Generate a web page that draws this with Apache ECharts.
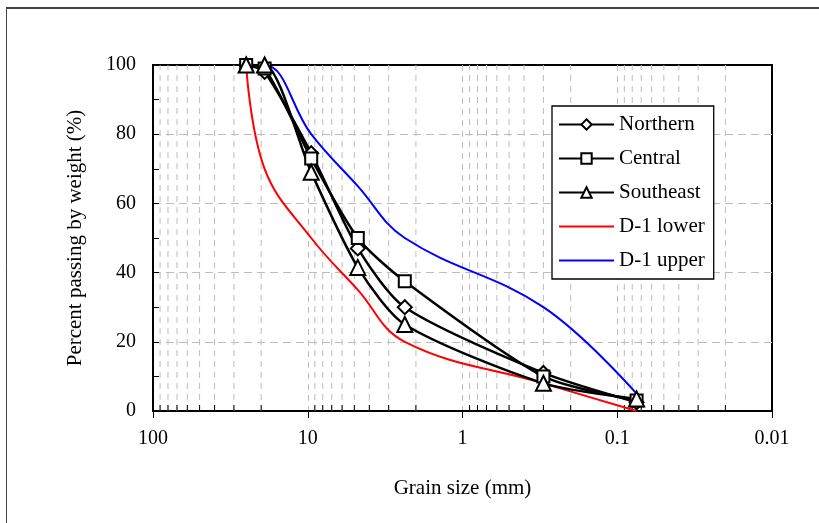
<!DOCTYPE html>
<html><head><meta charset="utf-8">
<script src="https://cdn.jsdelivr.net/npm/echarts@6/dist/echarts.min.js"></script>
<style>html,body{margin:0;padding:0;background:#fff}#c{width:819px;height:523px}</style>
</head><body><div id="c"></div>
<script>
var sizes = [25, 19, 9.5, 4.75, 2.36, 0.3, 0.075];
var northern = [100, 98, 74.5, 47, 30, 11, 2.5];
var central = [100, 99, 73, 50, 37.5, 10, 3];
var southeast = [100, 100, 69, 41.5, 25, 8, 3.5];
var d1Lower = [100, 70, 50, 35, 20, 8, 0];
var d1Upper = [100, 100, 80, 65, 50, 30, 5];
var xTickLabels = ['100', '10', '1', '0.1', '0.01'];
var decades = [0.01, 0.1, 1, 10];
var minorMult = [2, 3, 4, 5, 6, 7, 8, 9];

function pairs(ys){ return sizes.map(function(s,i){ return [s, ys[i]]; }); }
var minorVals = [];
decades.forEach(function(d){ minorMult.forEach(function(m){ minorVals.push([+(d*m).toPrecision(3), 0]); }); });

var FONT = 'Liberation Serif';
var chart = echarts.init(document.getElementById('c'));
function meas(name, ys, sym, size){
  return {name:name, type:'line', data:pairs(ys), smooth:0.25, symbol:sym, symbolSize:size,
    showSymbol:true, lineStyle:{color:'#000', width:2.5}, itemStyle:{color:'#fff', borderColor:'#000', borderWidth:2},
    z:5};
}
chart.setOption({
  animation:false,
  graphic:[
    {type:'line', shape:{x1:6, y1:8, x2:819, y2:8}, style:{stroke:'#444', lineWidth:2}},
    {type:'line', shape:{x1:6.5, y1:8, x2:6.5, y2:523}, style:{stroke:'#444', lineWidth:1}}
  ],
  grid:{left:153, right:47, top:65, bottom:112, show:true, borderColor:'#000', borderWidth:2, backgroundColor:'transparent'},
  legend:{orient:'vertical', left:552, top:106, itemWidth:55, itemHeight:13, itemGap:13,
    padding:[8,9,8,6], backgroundColor:'#fff', borderColor:'#000', borderWidth:1.3,
    textStyle:{fontFamily:FONT, fontSize:21, color:'#000'},
    data:['Northern','Central','Southeast',
      {name:'D-1 lower', itemStyle:{opacity:0}},
      {name:'D-1 upper', itemStyle:{opacity:0}}]},
  xAxis:{type:'log', logBase:10, min:0.01, max:100, inverse:true,
    name:'Grain size (mm)', nameLocation:'middle', nameGap:67,
    nameTextStyle:{fontFamily:FONT, fontSize:21, color:'#000'},
    axisLine:{show:true, lineStyle:{color:'#000', width:2}},
    axisTick:{show:true, inside:false, length:7, lineStyle:{color:'#000', width:1}},
    axisLabel:{fontFamily:FONT, fontSize:20, color:'#000', margin:18,
      formatter:function(v){ var s = String(+v.toPrecision(3)); return xTickLabels.indexOf(s) >= 0 ? s : ''; }},
    splitLine:{show:true, showMinLine:false, showMaxLine:false, lineStyle:{color:'#bdbdbd', type:[6,5], width:1}},
    minorTick:{show:false}},
  yAxis:{type:'value', min:0, max:100, interval:20,
    name:'Percent passing by weight (%)', nameLocation:'middle', nameGap:67,
    nameTextStyle:{fontFamily:FONT, fontSize:21, color:'#000'},
    axisLine:{show:true, lineStyle:{color:'#000', width:2}},
    axisTick:{show:true, inside:true, length:6, lineStyle:{color:'#000', width:1}},
    minorTick:{show:true, splitNumber:2, length:6, lineStyle:{color:'#000', width:1}},
    axisLabel:{fontFamily:FONT, fontSize:20, color:'#000', margin:17},
    splitLine:{show:true, showMinLine:false, showMaxLine:false, lineStyle:{color:'#bdbdbd', type:[8,5], width:1}}},
  series:[
    {type:'custom', name:'minor', silent:true, z:1, data:minorVals,
     renderItem:function(params, api){
       var v = api.value(0);
       var p0 = api.coord([v, 0]);
       var p1 = api.coord([v, 100]);
       return {type:'group', children:[
         {type:'line', shape:{x1:p0[0], y1:p0[1], x2:p1[0], y2:p1[1]}, style:{stroke:'#bdbdbd', lineWidth:1, lineDash:[6,5]}},
         {type:'line', shape:{x1:p0[0], y1:p0[1], x2:p0[0], y2:p0[1]-6}, style:{stroke:'#000', lineWidth:1}}
       ]};
     }},
    {name:'D-1 lower', type:'line', data:pairs(d1Lower), smooth:0.4, showSymbol:false, symbol:'none',
     lineStyle:{color:'#ff0000', width:2}, itemStyle:{color:'#ff0000'}, z:3},
    {name:'D-1 upper', type:'line', data:pairs(d1Upper), smooth:0.4, showSymbol:false, symbol:'none',
     lineStyle:{color:'#0000ff', width:2}, itemStyle:{color:'#0000ff'}, z:3},
    meas('Northern', northern, 'diamond', 14),
    meas('Central', central, 'rect', 12),
    meas('Southeast', southeast, 'triangle', 15)
  ]
});
</script></body></html>
